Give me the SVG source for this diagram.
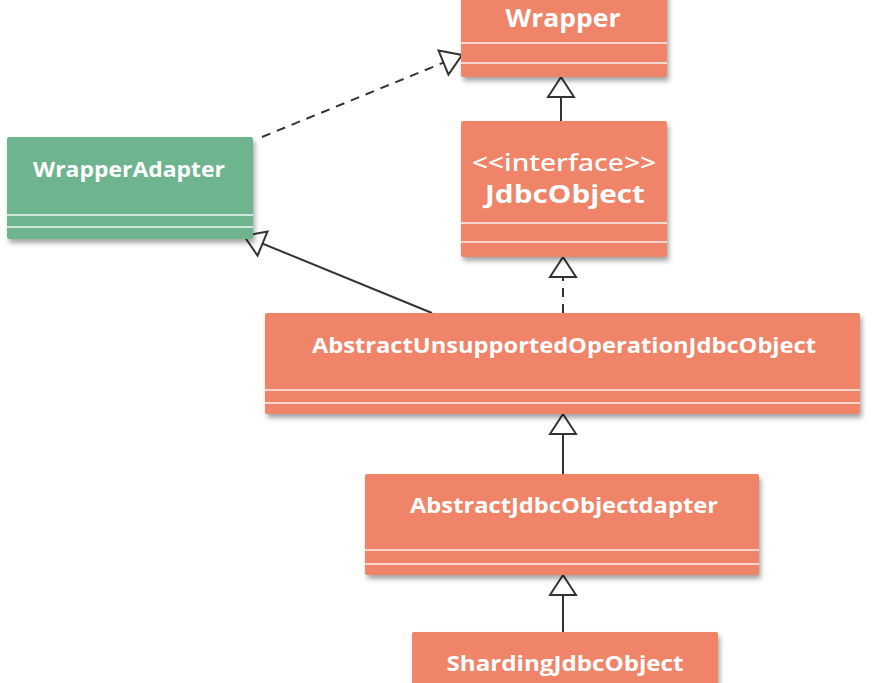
<svg xmlns="http://www.w3.org/2000/svg" width="872" height="683" viewBox="0 0 872 683">
  <defs>
    <filter id="sh" x="-10%" y="-10%" width="120%" height="130%">
      <feDropShadow dx="2" dy="4" stdDeviation="2.5" flood-color="#000" flood-opacity="0.35"/>
    </filter>
    <marker id="tri" markerUnits="userSpaceOnUse" viewBox="-23 -15 25 30" markerWidth="25" markerHeight="30" refX="0" refY="0" orient="auto">
      <path d="M -20 -13 L 0 0 L -20 13 Z" fill="#fff" stroke="#333" stroke-width="2" stroke-linejoin="miter"/>
    </marker>
    <style>
      .orange { fill: #EF8467; }
      .green { fill: #6DB48F; }
      .sep { stroke: #fff; stroke-width: 1.5; opacity: 0.9; }
      .t { fill: #fff; font-family: "Open Sans", "Noto Sans", "Liberation Sans", sans-serif; font-weight: bold; text-anchor: middle; }
      .st { fill: #fff; font-family: "Noto Sans", "Open Sans", "Liberation Sans", sans-serif; font-weight: 500; text-anchor: middle; }
      .edge { fill: none; stroke: #333; stroke-width: 2; marker-end: url(#tri); }
      .dash { stroke-dasharray: 9 7; }
    </style>
  </defs>

  <g id="connectors">
    <path class="edge dash" d="M 262 137 L 462 55"/>
    <path class="edge" d="M 432 313 L 244 236"/>
    <path class="edge" d="M 561 121 L 561 77"/>
    <path class="edge dash" d="M 563 313 L 563 257"/>
    <path class="edge" d="M 563 474 L 563 414"/>
    <path class="edge" d="M 563 632 L 563 575"/>
  </g>

  <g id="Wrapper">
    <rect class="orange" x="461" y="-30" width="206" height="107" rx="2" filter="url(#sh)"/>
    <line class="sep" x1="461" y1="43" x2="667" y2="43"/>
    <line class="sep" x1="461" y1="63" x2="667" y2="63"/>
    <text class="t" x="563" y="27" font-size="25" textLength="115" lengthAdjust="spacingAndGlyphs">Wrapper</text>
  </g>

  <g id="JdbcObject">
    <rect class="orange" x="461" y="121" width="206" height="136" rx="2" filter="url(#sh)"/>
    <line class="sep" x1="461" y1="223" x2="667" y2="223"/>
    <line class="sep" x1="461" y1="242" x2="667" y2="242"/>
    <text class="st" x="564" y="171" font-size="23" textLength="184" lengthAdjust="spacingAndGlyphs">&lt;&lt;interface&gt;&gt;</text>
    <text class="t" x="565" y="203" font-size="25" textLength="160" lengthAdjust="spacingAndGlyphs">JdbcObject</text>
  </g>

  <g id="WrapperAdapter">
    <rect class="green" x="7" y="137" width="246" height="102" rx="2" filter="url(#sh)"/>
    <line class="sep" x1="7" y1="215" x2="253" y2="215"/>
    <line class="sep" x1="7" y1="227" x2="253" y2="227"/>
    <text class="t" x="129" y="177" font-size="21" textLength="192" lengthAdjust="spacingAndGlyphs">WrapperAdapter</text>
  </g>

  <g id="AbstractUnsupportedOperationJdbcObject">
    <rect class="orange" x="265" y="313" width="595" height="101" rx="2" filter="url(#sh)"/>
    <line class="sep" x1="265" y1="390" x2="860" y2="390"/>
    <line class="sep" x1="265" y1="403" x2="860" y2="403"/>
    <text class="t" x="564" y="353" font-size="21" textLength="504" lengthAdjust="spacingAndGlyphs">AbstractUnsupportedOperationJdbcObject</text>
  </g>

  <g id="AbstractJdbcObjectdapter">
    <rect class="orange" x="365" y="474" width="394" height="101" rx="2" filter="url(#sh)"/>
    <line class="sep" x1="365" y1="550" x2="759" y2="550"/>
    <line class="sep" x1="365" y1="564" x2="759" y2="564"/>
    <text class="t" x="564" y="513" font-size="21" textLength="308" lengthAdjust="spacingAndGlyphs">AbstractJdbcObjectdapter</text>
  </g>

  <g id="ShardingJdbcObject">
    <rect class="orange" x="412" y="632" width="306" height="80" rx="2" filter="url(#sh)"/>
    <text class="t" x="565" y="671" font-size="21" textLength="237" lengthAdjust="spacingAndGlyphs">ShardingJdbcObject</text>
  </g>
</svg>
